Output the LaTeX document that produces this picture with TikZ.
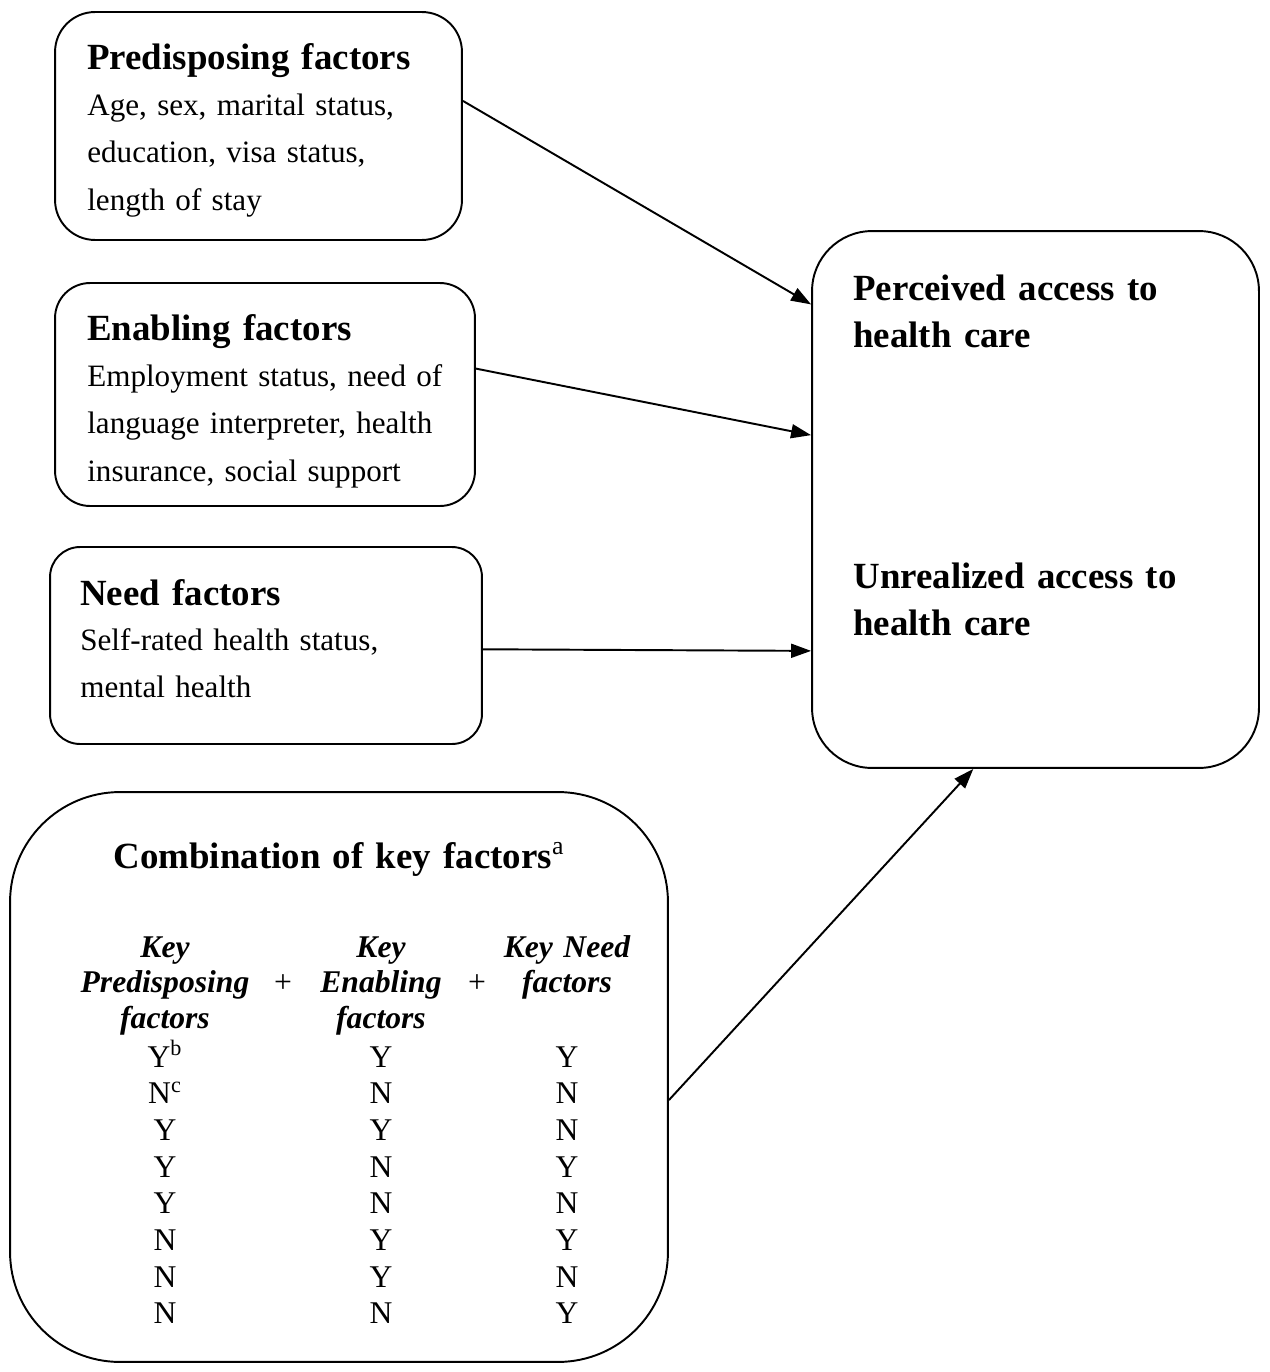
\documentclass[tikz,border=0pt]{standalone}
\usepackage{fontspec}
\setmainfont{Liberation Serif}
\usepackage{tikz}
\usetikzlibrary{arrows.meta}

\tikzset{
  box/.style={draw, line width=1.1pt, rounded corners=#1, inner sep=0pt},
  head/.style={font=\fontsize{21}{26.8}\selectfont\bfseries, anchor=base west, inner sep=0pt, align=left, text width=8cm},
  body/.style={font=\fontsize{17.7}{27.3}\selectfont, anchor=base west, inner sep=0pt, align=left, text width=8cm},
  colhead/.style={font=\fontsize{18}{20.3}\selectfont\bfseries\itshape, anchor=base, inner sep=0pt, align=center, text width=4cm},
  cell/.style={font=\fontsize{18}{20}\selectfont, anchor=base, inner sep=0pt},
  link/.style={-{Triangle[length=0.4cm, width=0.28cm]}, line width=1.1pt}
}

\begin{document}
\begin{tikzpicture}[x=0.02cm, y=-0.02cm]
  \useasboundingbox (0,0) rectangle (1269,1372);

  % Predisposing factors
  \node[box=0.8cm, minimum width=8.14cm, minimum height=4.56cm] (pred) at (258.5,126) {};
  \node[head] (predT) at (87,70) {Predisposing factors};
  \node[body] (predB) at (87,115) {Age, sex, marital status,\\education, visa status,\\length of stay};

  % Enabling factors
  \node[box=0.7cm, minimum width=8.4cm, minimum height=4.46cm] (enab) at (265,394.5) {};
  \node[head] (enabT) at (87,340) {Enabling factors};
  \node[body] (enabB) at (87,386) {Employment status, need of\\\makebox[7.16cm][s]{language interpreter, health}\\insurance, social support};

  % Need factors
  \node[box=0.6cm, minimum width=8.64cm, minimum height=3.94cm] (need) at (266,645.5) {};
  \node[head] (needT) at (80,605) {Need factors};
  \node[body] (needB) at (80,650) {Self-rated health status,\\mental health};

  % Outcomes
  \node[box=1.2cm, minimum width=8.94cm, minimum height=10.74cm] (out) at (1035.5,499.5) {};
  \node[head] (percT) at (853,300) {Perceived access to\\health care};
  \node[head] (unrlT) at (853,588) {Unrealized access to\\health care};

  % Combination of key factors
  \node[box=2.2cm, minimum width=13.16cm, minimum height=11.4cm] (comb) at (339,1077) {};
  \node[head, anchor=base, align=center, text width=12cm] (combT) at (339,868) {Combination of key factors\textsuperscript{\mdseries a}};
  \node[colhead] (colP) at (165,957) {Key\\Predisposing\\factors};
  \node[colhead] (colE) at (381,957) {Key\\Enabling\\factors};
  \node[colhead] (colN) at (567,957) {Key Need\\factors};
  \node[cell] (plus1) at (283,992) {+};
  \node[cell] (plus2) at (477,992) {+};
  \foreach \p/\e/\n [count=\i from 0] in {Y\textsuperscript{b}/Y/Y, N\textsuperscript{c}/N/N, Y/Y/N, Y/N/Y, Y/N/N, N/Y/Y, N/Y/N, N/N/Y}
  {
    \node[cell] (p\i) at (165,{1067+36.7*\i}) {\p};
    \node[cell] (e\i) at (381,{1067+36.7*\i}) {\e};
    \node[cell] (n\i) at (567,{1067+36.7*\i}) {\n};
  }

  % Arrows
  \draw[link] (pred.7.8) -- (out.139.1);
  \draw[link] (enab.7.7) -- (out.164.1);
  \draw[link] (need.-1.2) -- (out.214.1);
  \draw[link] (comb.-4) -- (out.257.9);
\end{tikzpicture}
\end{document}
